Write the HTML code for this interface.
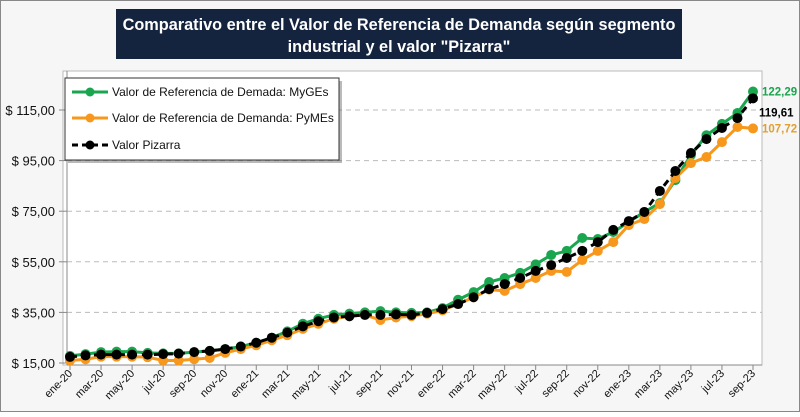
<!DOCTYPE html>
<html><head><meta charset="utf-8"><style>
body{margin:0;width:800px;height:412px;overflow:hidden;background:#fff;font-family:"Liberation Sans",sans-serif}
</style></head><body>
<svg id="chart" width="800" height="412" xmlns="http://www.w3.org/2000/svg" font-family="Liberation Sans, sans-serif">
<rect x="0.5" y="0.5" width="799" height="411" fill="#f6f6f6" stroke="#888"/>
<rect x="116" y="9" width="566" height="50" fill="#14243f"/>
<text x="399" y="30" text-anchor="middle" fill="#fff" font-size="16.3" font-weight="bold">Comparativo entre el Valor de Referencia de Demanda según segmento</text>
<text x="399" y="52" text-anchor="middle" fill="#fff" font-size="16.3" font-weight="bold">industrial y el valor "Pizarra"</text>
<rect x="63" y="71" width="699" height="294" fill="#fff" stroke="#bbb"/>
<g id="grid"></g><g id="axes"></g><g id="series"></g>
<g>
<rect x="68" y="81" width="274" height="82" fill="#666" opacity="0.45"/>
<rect x="65" y="78" width="274" height="82" fill="#fff" stroke="#333" stroke-width="1"/>
<g><line x1="72" y1="92" x2="108" y2="92" stroke="#1aa64f" stroke-width="3"/><circle cx="90" cy="92" r="4.5" fill="#1aa64f"/><text x="112" y="96" font-size="12" fill="#111">Valor de Referencia de Demada: MyGEs</text></g>
<g><line x1="72" y1="118" x2="108" y2="118" stroke="#f7981d" stroke-width="3"/><circle cx="90" cy="118" r="4.5" fill="#f7981d"/><text x="112" y="122" font-size="12" fill="#111">Valor de Referencia de Demanda: PyMEs</text></g>
<g><line x1="72" y1="145" x2="108" y2="145" stroke="#000" stroke-width="3" stroke-dasharray="6,4"/><circle cx="90" cy="145" r="4.5" fill="#000"/><text x="112" y="149" font-size="12" fill="#111">Valor Pizarra</text></g>
</g>
<g id="labels"></g>
</svg>
<script>
const months = ["ene","feb","mar","abr","may","jun","jul","ago","sep","oct","nov","dic"];
const categories = [];
for (let y = 20; y <= 23; y++) for (let m = 0; m < 12; m++) { if (y === 23 && m > 8) break; categories.push(months[m] + "-" + y); }
const yTicks = [15, 35, 55, 75, 95, 115];
const yTickLabels = ["$ 15,00","$ 35,00","$ 55,00","$ 75,00","$ 95,00","$ 115,00"];
const mygesValues = [17.8,18.5,19.3,19.5,19.5,19,18.8,18.8,19.3,19.8,20.5,21.5,23,25,27.5,30.5,32.5,34,34.5,35,35.5,35,34.8,35,36.7,40,43,47,48.6,50.6,54,57.7,59.3,64.4,64,66.8,70.7,74.7,78.2,87.3,97.2,105,109.5,113.8,122.29];
const pymesValues = [16,16.5,17.5,17.5,17.5,17.3,16,16,16.5,17,19,20.5,22,24,26,28.5,30.5,32.5,33.5,34,32,33,33.5,34.5,35.8,38.3,41,44,43.5,46.2,48.6,51.4,51,55.7,59.3,62.8,69.5,71.9,77.8,88.1,94,96.4,102.3,108.3,107.72];
const pizarraValues = [17.4,18,18.3,18.3,18.3,18.3,18.5,18.7,19.3,19.8,20.5,21.5,23,25,27,29.5,31.5,33,33.5,34,34,34.2,34,34.8,36.3,38.3,41,44.2,46.2,48.6,51.4,53.7,56.5,59.3,62.8,67.6,71.1,74.7,83,90.9,98,103.5,107.9,111.8,119.61];

const NS = "http://www.w3.org/2000/svg";
const x = i => 70 + i * (753 - 70) / (categories.length - 1);
const y = v => 363 - (v - 15) * (363 - 110) / 100;
function mk(tag, attrs, parent) { const e = document.createElementNS(NS, tag); for (const k in attrs) e.setAttribute(k, attrs[k]); parent.appendChild(e); return e; }
const grid = document.getElementById("grid"), axes = document.getElementById("axes"), series = document.getElementById("series"), labels = document.getElementById("labels");
yTicks.forEach((t, i) => {
  if (i > 0) { const g = mk("line", {x1: 67, x2: 762, y1: y(t), y2: y(t), stroke: "#bbb", "stroke-dasharray": "5,4"}, grid);
    
     }
  const tk = mk("line", {x1: 59, x2: 67, y1: y(t), y2: y(t), stroke: "#888"}, axes);
  
  
  const tx = mk("text", {x: 55, y: y(t) + 5, "text-anchor": "end", "font-size": "13", fill: "#111"}, axes);
  tx.textContent = yTickLabels[i];
  
  
});
const ax = mk("line", {x1: 67, x2: 67, y1: 71, y2: 365, stroke: "#888"}, axes);


const bx = mk("line", {x1: 67, x2: 762, y1: 365, y2: 365, stroke: "#888"}, axes);


categories.forEach((c, i) => {
  if (i % 2) return;
  const tk = mk("line", {x1: x(i), x2: x(i), y1: 365, y2: 370, stroke: "#888"}, axes);
  
  
  const tx = mk("text", {x: x(i) + 3, y: 374, "text-anchor": "end", "font-size": "11", fill: "#111", transform: `rotate(-45 ${x(i) + 3} 374)`}, axes);
  tx.textContent = c;
  
  
});
function draw(vals, color, name, dash) {
  const g = mk("g", {}, series);
  
  
  const pl = mk("polyline", {points: vals.map((v, i) => x(i) + "," + y(v)).join(" "), fill: "none", stroke: color, "stroke-width": 3}, g);
  if (dash) pl.setAttribute("stroke-dasharray", "7,5");
  vals.forEach((v, i) => {
    const c = mk("circle", {cx: x(i), cy: y(v), r: 5, fill: color}, g);
    
    
  });
}
draw(mygesValues, "#1aa64f", "series-mygges", false);
draw(pymesValues, "#f7981d", "series-pymes", false);
draw(pizarraValues, "#000", "series-pizarra", true);
function lastLabel(vals, color, name, dx, dy) {
  const n = vals.length - 1;
  const t = mk("text", {x: x(n) + dx, y: y(vals[n]) + dy, "font-size": "11.5", "font-weight": "bold", fill: color}, labels);
  t.textContent = vals[n].toFixed(2).replace(".", ",");
  
  
}
lastLabel(mygesValues, "#1aa64f", "label-mygges-last", 9, 4);
lastLabel(pizarraValues, "#000", "label-pizarra-last", 6, 18);
lastLabel(pymesValues, "#e0a030", "label-pymes-last", 9, 4);
</script>
</body></html>
